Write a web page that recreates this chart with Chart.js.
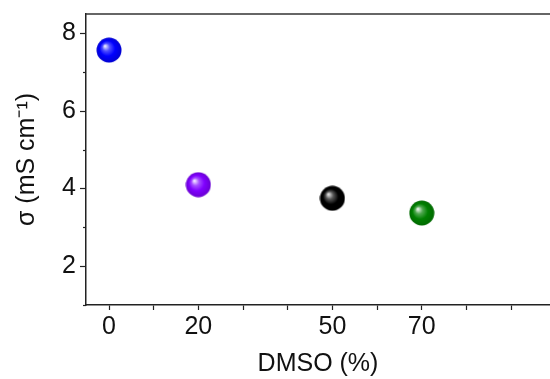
<!DOCTYPE html>
<html>
<head>
<meta charset="utf-8">
<script src="https://cdn.jsdelivr.net/npm/chart.js@4"></script>
<style>
  html, body { margin: 0; padding: 0; background: #fff; }
  #wrap { width: 550px; height: 379px; }
</style>
</head>
<body>
<div id="wrap"><canvas id="c" width="550" height="379"></canvas></div>
<script>
// ---- data ----
const dmsoPercent = [0, 20, 50, 70];
const sigmaValues = [7.57, 4.1, 3.75, 3.37];
const pointColors = ['#0000ff', '#8000ff', '#000000', '#008000'];
const xTickValues = [0, 10, 20, 30, 40, 50, 60, 70, 80, 90];
const xTickLabels = [0, 20, 50, 70];
const yTickValues = [2, 4, 6, 8];
const yMinorTicks = [1, 3, 5, 7];
const xTitle = 'DMSO (%)';
const yTitle = 'σ (mS cm⁻¹)';

const FONT = "'Liberation Sans', Arial, sans-serif";

function shade(hex, f) {
  const n = parseInt(hex.slice(1), 16);
  let r = (n >> 16) & 255, g = (n >> 8) & 255, b = n & 255;
  if (f >= 0) { r += (255 - r) * f; g += (255 - g) * f; b += (255 - b) * f; }
  else { r *= 1 + f; g *= 1 + f; b *= 1 + f; }
  return `rgb(${Math.round(r)},${Math.round(g)},${Math.round(b)})`;
}

function sphere(color) {
  const s = 26, c = document.createElement('canvas');
  c.width = s; c.height = s;
  const g = c.getContext('2d');
  const r = 12.5;
  const isBlack = color === '#000000';
  const grad = g.createRadialGradient(s/2 - 4, s/2 - 4, 0.5, s/2, s/2, r);
  grad.addColorStop(0, isBlack ? '#e0e0e0' : shade(color, 0.9));
  grad.addColorStop(0.28, isBlack ? '#555555' : shade(color, 0.3));
  grad.addColorStop(0.6, color);
  grad.addColorStop(1, isBlack ? '#000000' : shade(color, -0.18));
  g.fillStyle = grad;
  g.beginPath(); g.arc(s/2, s/2, r, 0, Math.PI * 2); g.fill();
  return c;
}

const frame = {
  id: 'frame',
  afterDraw(chart) {
    const {ctx, chartArea} = chart;
    const y = chart.scales.y;
    ctx.save();
    ctx.strokeStyle = '#333';
    ctx.lineWidth = 1.5;
    ctx.beginPath();
    ctx.moveTo(chartArea.left, chartArea.top);
    ctx.lineTo(chartArea.right, chartArea.top);
    ctx.stroke();
    ctx.lineWidth = 1.2;
    ctx.strokeStyle = '#222';
    yMinorTicks.forEach(v => {
      const py = Math.round(y.getPixelForValue(v)) + 0.5;
      ctx.beginPath();
      ctx.moveTo(chartArea.left - 3, py);
      ctx.lineTo(chartArea.left, py);
      ctx.stroke();
    });
    ctx.restore();
  }
};

new Chart(document.getElementById('c'), {
  type: 'scatter',
  data: {
    datasets: [{
      data: dmsoPercent.map((x, i) => ({x, y: sigmaValues[i]})),
      pointStyle: pointColors.map(sphere),
      pointRadius: 12,
      showLine: false,
      clip: false
    }]
  },
  options: {
    responsive: false,
    animation: false,
    layout: { autoPadding: false, padding: 0 },
    plugins: { legend: { display: false }, tooltip: { enabled: false } },
    scales: {
      x: {
        type: 'linear',
        min: -5.15, max: 98.7,
        afterBuildTicks: s => { s.ticks = xTickValues.map(v => ({value: v})); },
        afterFit: s => { s.height = 74; s.paddingLeft = 0; s.paddingRight = 0; },
        grid: { display: true, drawOnChartArea: false, drawTicks: true, tickLength: 5, tickColor: '#222', tickWidth: 1.2 },
        border: { display: true, color: '#222', width: 1.5 },
        ticks: {
          autoSkip: false, maxRotation: 0, padding: 2, color: '#111',
          font: { family: FONT, size: 25 },
          callback: v => xTickLabels.includes(v) ? String(v) : ''
        },
        title: { display: true, text: xTitle, color: '#111', font: { family: FONT, size: 25 }, padding: { top: 0, bottom: 0 } }
      },
      y: {
        type: 'linear',
        min: 1, max: 8.5,
        afterBuildTicks: s => { s.ticks = yTickValues.map(v => ({value: v})); },
        afterFit: s => { s.width = 86; s.paddingTop = 14; s.paddingBottom = 0; },
        grid: { display: true, drawOnChartArea: false, drawTicks: true, tickLength: 6, tickColor: '#222', tickWidth: 1.2 },
        border: { display: true, color: '#222', width: 1.5 },
        ticks: { padding: 4, color: '#111', font: { family: FONT, size: 25 } },
        title: { display: true, text: yTitle, color: '#111', font: { family: FONT, size: 25 }, padding: { top: 12, bottom: 0 } }
      }
    }
  },
  plugins: [frame]
});
</script>
</body>
</html>
